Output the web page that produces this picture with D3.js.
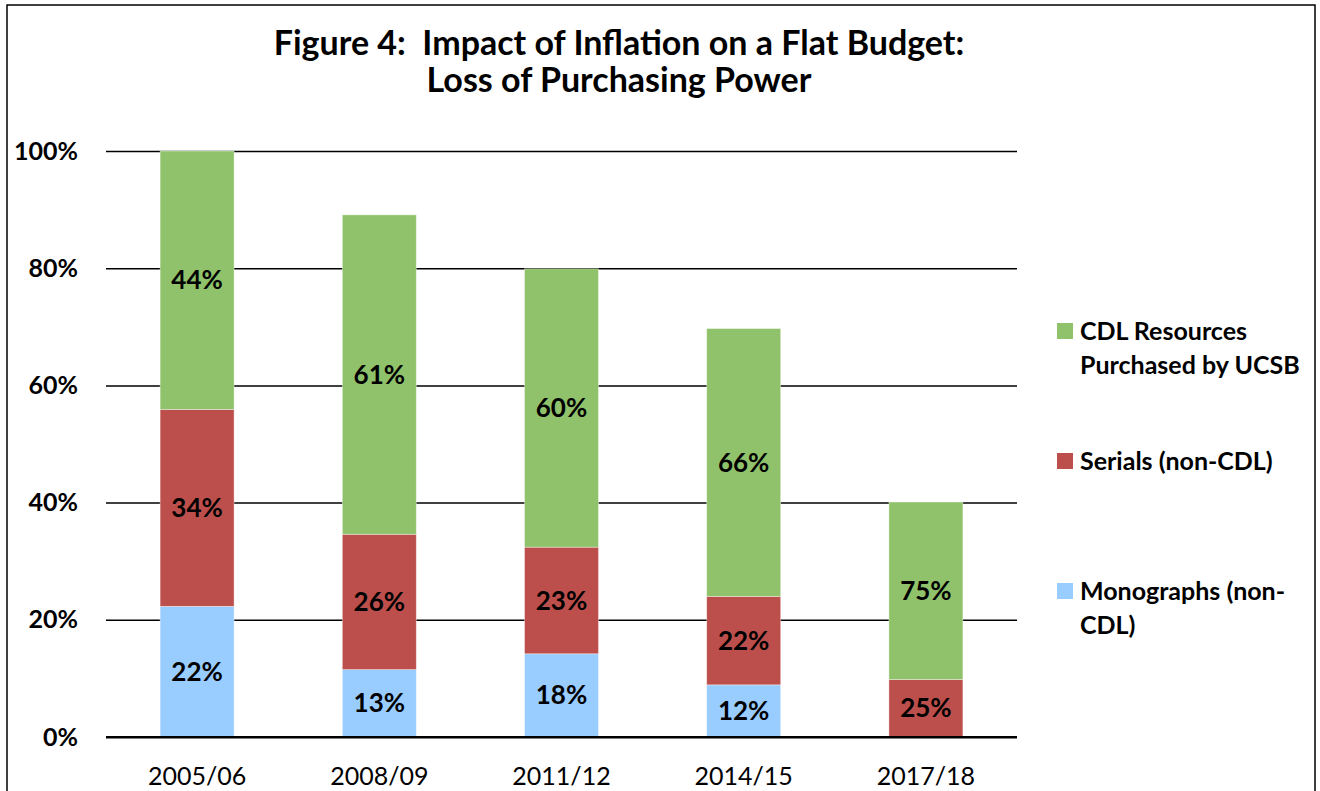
<!DOCTYPE html>
<html>
<head>
<meta charset="utf-8">
<script src="https://cdn.jsdelivr.net/npm/d3@7"></script>
<style>
    body { margin: 0; background: #fff; }
    svg { display: block; font-family: Lato, "Open Sans", sans-serif; }
</style>
</head>
<body>
<div id="chart"></div>
<script>
// values are % of the 2005/06 budget; labels are each segment's share of its bar
const years = ["2005/06", "2008/09", "2011/12", "2014/15", "2017/18"];
const monographs = [22.3, 11.5, 14.2, 8.9, 0];
const serials = [33.6, 23.1, 18.2, 15.1, 9.8];
const cdl = [44.1, 54.5, 47.5, 45.7, 30.3];
const monographLabels = ["22%", "13%", "18%", "12%", ""];
const serialLabels = ["34%", "26%", "23%", "22%", "25%"];
const cdlLabels = ["44%", "61%", "60%", "66%", "75%"];
const yTicks = [0, 20, 40, 60, 80, 100];

const series = [
    {name: "Monographs (non-CDL)", lines: ["Monographs (non-", "CDL)"], values: monographs, labels: monographLabels, color: "#99CCFF"},
    {name: "Serials (non-CDL)", lines: ["Serials (non-CDL)"], values: serials, labels: serialLabels, color: "#BC4F4C"},
    {name: "CDL Resources Purchased by UCSB", lines: ["CDL Resources", "Purchased by UCSB"], values: cdl, labels: cdlLabels, color: "#8FC26A"}
];

const width = 1320, height = 791;
const plot = {left: 106, right: 1017, top: 151, bottom: 737};

const svg = d3.select("#chart")
    .append("svg")
    .attr("width", width)
    .attr("height", height);

// outer frame (bottom edge is cut off in the original)
svg.append("path")
    .attr("d", `M7,${height} V5 H1315 V${height}`)
    .attr("fill", "none")
    .attr("stroke", "#000")
    .attr("stroke-width", 1.5);

// title, two separate lines
["Figure 4:  Impact of Inflation on a Flat Budget:", "Loss of Purchasing Power"].forEach((t, i) => {
    svg.append("text")
        .attr("x", 619)
        .attr("y", 55 + i * 37)
        .attr("text-anchor", "middle")
        .attr("xml:space", "preserve")
        .style("font-weight", "bold")
        .style("font-size", "34px")
        .text(t);
});

const x = d3.scaleBand()
    .domain(years)
    .range([plot.left, plot.right])
    .paddingInner(0.594)
    .paddingOuter(0.297);

const y = d3.scaleLinear()
    .domain([0, 100])
    .range([plot.bottom, plot.top]);

// gridlines + y labels
const yAxis = svg.append("g")
    .attr("transform", `translate(${plot.left},0)`)
    .call(d3.axisLeft(y).tickValues(yTicks).tickSize(-(plot.right - plot.left)).tickFormat(d => d + "%"));
yAxis.select(".domain").remove();
yAxis.selectAll(".tick line")
    .attr("stroke", "#000")
    .attr("stroke-width", d => d === 0 ? 2.2 : 1.5);
yAxis.selectAll(".tick text")
    .attr("x", -28)
    .attr("fill", "#000")
    .style("font-size", "25px")
    .style("font-weight", "bold")
    .style("font-family", "Lato, sans-serif");

// stacked bars
const stacked = years.map((yr, i) => {
    let base = 0;
    return series.map(s => {
        const seg = {year: yr, y0: base, y1: base + s.values[i], color: s.color, label: s.labels[i]};
        base += s.values[i];
        return seg;
    });
});

const bars = svg.append("g").attr("class", "marks");
bars.selectAll("g")
    .data(stacked)
    .join("g")
    .selectAll("rect")
    .data(d => d.filter(s => s.y1 > s.y0))
    .join("rect")
    .attr("x", d => x(d.year))
    .attr("width", x.bandwidth())
    .attr("y", d => y(d.y1))
    .attr("height", d => y(d.y0) - y(d.y1))
    .attr("fill", d => d.color)
    .attr("stroke", "#fff")
    .attr("stroke-opacity", 0.5)
    .attr("stroke-width", 0.75);

// redraw baseline on top of bars
svg.append("line")
    .attr("x1", plot.left).attr("x2", plot.right)
    .attr("y1", y(0)).attr("y2", y(0))
    .attr("stroke", "#000")
    .attr("stroke-width", 2.2);

// segment labels
const labels = svg.append("g").attr("class", "text");
labels.selectAll("text")
    .data(stacked.flat().filter(d => d.label))
    .join("text")
    .attr("x", d => x(d.year) + x.bandwidth() / 2)
    .attr("y", d => (y(d.y0) + y(d.y1)) / 2)
    .attr("dy", "0.35em")
    .attr("text-anchor", "middle")
    .style("font-size", "26px")
    .style("font-weight", "bold")
    .text(d => d.label);

// x labels
svg.append("g")
    .selectAll("text")
    .data(years)
    .join("text")
    .attr("x", d => x(d) + x.bandwidth() / 2)
    .attr("y", 785)
    .attr("text-anchor", "middle")
    .style("font-size", "25px")
    .text(d => d);

// legend
const legendRows = [
    {s: series[2], y: 331},
    {s: series[1], y: 461},
    {s: series[0], y: 591}
];
const legend = svg.append("g").attr("class", "legend");
legendRows.forEach(r => {
    legend.append("rect")
        .attr("x", 1057)
        .attr("y", r.y - 8)
        .attr("width", 16)
        .attr("height", 16)
        .attr("fill", r.s.color);
    legend.append("text")
        .style("font-size", "25px")
        .style("font-weight", "bold")
        .selectAll("tspan")
        .data(r.s.lines)
        .join("tspan")
        .attr("x", 1080)
        .attr("y", (d, i) => r.y + 9 + i * 34)
        .text(d => d);
});
</script>
</body>
</html>
